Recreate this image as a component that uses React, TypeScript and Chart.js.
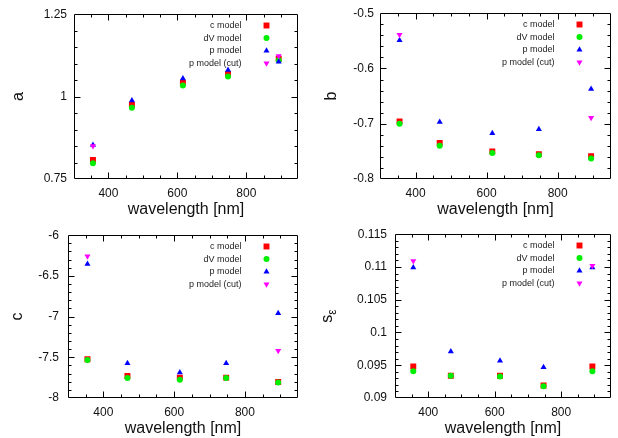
import React, { useEffect, useRef } from 'react';
import { Chart, registerables } from 'chart.js';

Chart.register(...registerables);

// ---- data ----
const wavelengths = [355, 468, 616, 747, 894];
const seriesNames = ['c model', 'dV model', 'p model', 'p model (cut)'];

const aC = [0.808, 0.975, 1.042, 1.069, 1.115];
const aDV = [0.798, 0.966, 1.034, 1.061, 1.110];
const aP = [0.853, 0.988, 1.055, 1.081, 1.106];
const aPcut = [0.850, null, null, null, 1.123];

const bC = [-0.696, -0.735, -0.750, -0.755, -0.759];
const bDV = [-0.700, -0.740, -0.753, -0.757, -0.763];
const bP = [-0.549, -0.697, -0.717, -0.710, -0.637];
const bPcut = [-0.539, null, null, null, -0.689];

const cC = [-7.525, -7.730, -7.750, -7.750, -7.803];
const cDV = [-7.533, -7.755, -7.775, -7.755, -7.811];
const cP = [-6.354, -7.573, -7.686, -7.573, -6.958];
const cPcut = [-6.258, null, null, null, -7.420];

const sC = [0.0948, 0.0934, 0.0934, 0.0919, 0.0948];
const sDV = [0.0941, 0.0934, 0.0933, 0.0918, 0.0941];
const sP = [0.1099, 0.0971, 0.0957, 0.0947, 0.1099];
const sPcut = [0.1109, null, null, null, 0.1102];

const xTicks = [400, 600, 800];
const aTicks = [0.75, 1, 1.25];
const aTickLabels = ['0.75', '1', '1.25'];
const bTicks = [-0.8, -0.7, -0.6, -0.5];
const bTickLabels = ['-0.8', '-0.7', '-0.6', '-0.5'];
const cTicks = [-8, -7.5, -7, -6.5, -6];
const cTickLabels = ['-8', '-7.5', '-7', '-6.5', '-6'];
const sTicks = [0.09, 0.095, 0.1, 0.105, 0.11, 0.115];
const sTickLabels = ['0.09', '0.095', '0.1', '0.105', '0.11', '0.115'];

// ---- panel definitions ----
const panelDefs = [
  { title: 'a', sub: '', series: [aC, aDV, aP, aPcut], yMin: 0.75, yMax: 1.25, ticks: aTicks, labels: aTickLabels, minor: 0.05 },
  { title: 'b', sub: '', series: [bC, bDV, bP, bPcut], yMin: -0.8, yMax: -0.5, ticks: bTicks, labels: bTickLabels, minor: 0.02 },
  { title: 'c', sub: '', series: [cC, cDV, cP, cPcut], yMin: -8, yMax: -6, ticks: cTicks, labels: cTickLabels, minor: 0.1 },
  { title: 's', sub: 'ε', series: [sC, sDV, sP, sPcut], yMin: 0.09, yMax: 0.115, ticks: sTicks, labels: sTickLabels, minor: 0.001 },
];

// ---- layout / style ----
const W = 309;
const H = 219;
const panelLayout = [
  { x: 0, y: 0, left: 74, right: 298, labelPad: 7, titleBase: 23 },
  { x: 309, y: 0, left: 71, right: 302, labelPad: 6, titleBase: 27 },
  { x: 0, y: 219, left: 68, right: 298, labelPad: 9, titleBase: 22 },
  { x: 309, y: 219, left: 86, right: 302, labelPad: 8, titleBase: 23 },
];
const TOP = 13;
const BOTTOM = 179;
const FONT = "'Liberation Sans', Arial, sans-serif";
const markerStyles = [
  { color: '#ff0000', style: 'rect', radius: 4.2, rotation: 0 },
  { color: '#00ee00', style: 'circle', radius: 3, rotation: 0 },
  { color: '#0000ff', style: 'triangle', radius: 3.5, rotation: 0 },
  { color: '#ff00ff', style: 'triangle', radius: 3.5, rotation: 180 },
];

function drawMarker(ctx: CanvasRenderingContext2D, kind: number, x: number, y: number) {
  const m = markerStyles[kind];
  ctx.fillStyle = m.color;
  ctx.beginPath();
  if (m.style === 'rect') {
    const s = m.radius * Math.SQRT1_2;
    ctx.rect(x - s, y - s, 2 * s, 2 * s);
  } else if (m.style === 'circle') {
    ctx.arc(x, y, m.radius, 0, Math.PI * 2);
  } else {
    const r = m.radius;
    const d = m.rotation ? -1 : 1;
    ctx.moveTo(x, y - d * r);
    ctx.lineTo(x + 0.866 * r, y + d * 0.5 * r);
    ctx.lineTo(x - 0.866 * r, y + d * 0.5 * r);
    ctx.closePath();
  }
  ctx.fill();
}

const gnuPlugin = {
  id: 'gnu',
  beforeDatasetsDraw(chart: any, _args: any, opts: any) {
    const { ctx, chartArea: ca, scales } = chart;
    const xs = scales.x;
    const ys = scales.y;
    const L = Math.round(ca.left) + 0.5;
    const R = Math.round(ca.right) - 0.5;
    const T = Math.round(ca.top) + 0.5;
    const B = Math.round(ca.bottom) - 0.5;
    ctx.save();
    ctx.strokeStyle = '#000';
    ctx.lineWidth = 1;
    ctx.beginPath();
    ctx.rect(L, T, R - L, B - T);
    // x ticks
    const xMin = xs.min, xMax = xs.max;
    for (let v = 300; v <= xMax + 1e-9; v += 50) {
      if (v <= xMin || v >= xMax) continue;
      const major = v % 200 === 0;
      const len = major ? 6 : 3;
      const px = Math.round(xs.getPixelForValue(v)) + 0.5;
      ctx.moveTo(px, B); ctx.lineTo(px, B - len);
      ctx.moveTo(px, T); ctx.lineTo(px, T + len);
    }
    // y ticks
    const n = Math.round((opts.yMax - opts.yMin) / opts.minor);
    const majorEvery = Math.round((opts.ticks[1] - opts.ticks[0]) / opts.minor);
    for (let i = 1; i < n; i++) {
      const v = opts.yMin + i * opts.minor;
      const major = i % majorEvery === 0;
      const len = major ? 6 : 3;
      const py = Math.round(ys.getPixelForValue(v)) + 0.5;
      ctx.moveTo(L, py); ctx.lineTo(L + len, py);
      ctx.moveTo(R, py); ctx.lineTo(R - len, py);
    }
    ctx.stroke();
    ctx.restore();
  },
  afterDatasetsDraw(chart: any, _args: any, opts: any) {
    const { ctx, chartArea: ca } = chart;
    ctx.save();
    // legend
    ctx.font = `9px ${FONT}`;
    ctx.textAlign = 'right';
    ctx.textBaseline = 'middle';
    for (let i = 0; i < opts.names.length; i++) {
      const y = ca.top + 11.3 + i * 12.6;
      ctx.fillStyle = '#222';
      ctx.fillText(opts.names[i], ca.right - 56.5, y);
      drawMarker(ctx, i, ca.right - 31.5, y);
    }
    // y title
    const cy = (ca.top + ca.bottom) / 2;
    ctx.translate(opts.titleBase, cy);
    ctx.rotate(-Math.PI / 2);
    ctx.fillStyle = '#111';
    ctx.textBaseline = 'alphabetic';
    ctx.textAlign = 'left';
    ctx.font = `16px ${FONT}`;
    const w1 = ctx.measureText(opts.title).width;
    let w2 = 0;
    if (opts.sub) {
      ctx.font = `12px ${FONT}`;
      w2 = ctx.measureText(opts.sub).width;
    }
    const x0 = -(w1 + w2) / 2;
    ctx.font = `16px ${FONT}`;
    ctx.fillText(opts.title, x0, 0);
    if (opts.sub) {
      ctx.font = `12px ${FONT}`;
      ctx.fillText(opts.sub, x0 + w1, 4);
    }
    ctx.restore();
  },
};

function makeConfig(idx: number): any {
  const def = panelDefs[idx];
  const lay = panelLayout[idx];
  const datasets = def.series.map((vals, si) => ({
    label: seriesNames[si],
    order: def.series.length - si,
    data: wavelengths
      .map((w, i) => (vals[i] === null ? null : { x: w, y: vals[i] }))
      .filter((p) => p !== null),
    pointStyle: markerStyles[si].style,
    pointRadius: markerStyles[si].radius,
    pointRotation: markerStyles[si].rotation,
    pointBackgroundColor: markerStyles[si].color,
    pointBorderWidth: 0,
    borderWidth: 0,
    showLine: false,
  }));
  return {
    type: 'scatter',
    data: { datasets },
    plugins: [gnuPlugin],
    options: {
      responsive: false,
      maintainAspectRatio: false,
      devicePixelRatio: 1,
      animation: false,
      events: [],
      layout: { padding: { top: TOP, right: W - lay.right, bottom: 0, left: 0 } },
      plugins: {
        legend: { display: false },
        tooltip: { enabled: false },
        gnu: {
          names: seriesNames,
          title: def.title,
          sub: def.sub,
          titleBase: lay.titleBase,
          yMin: def.yMin,
          yMax: def.yMax,
          ticks: def.ticks,
          minor: def.minor,
        },
      },
      scales: {
        x: {
          type: 'linear',
          min: 300,
          max: 950,
          grid: { display: false, drawTicks: false },
          border: { display: false },
          afterBuildTicks: (s: any) => {
            s.ticks = xTicks.map((v) => ({ value: v }));
          },
          afterFit: (s: any) => {
            s.height = H - BOTTOM;
          },
          ticks: {
            padding: 7,
            color: '#111',
            font: { family: FONT, size: 12 },
            maxRotation: 0,
            autoSkip: false,
            callback: (v: any) => String(v),
          },
          title: {
            display: true,
            text: 'wavelength [nm]',
            color: '#111',
            font: { family: FONT, size: 16 },
            padding: { top: 0, bottom: 0 },
          },
        },
        y: {
          type: 'linear',
          min: def.yMin,
          max: def.yMax,
          grid: { display: false, drawTicks: false },
          border: { display: false },
          afterBuildTicks: (s: any) => {
            s.ticks = def.ticks.map((v) => ({ value: v }));
          },
          afterFit: (s: any) => {
            s.width = lay.left;
          },
          ticks: {
            padding: lay.labelPad,
            color: '#111',
            font: { family: FONT, size: 12 },
            autoSkip: false,
            callback: (v: any) => {
              const k = def.ticks.findIndex((t) => Math.abs(t - v) < 1e-9);
              return k >= 0 ? def.labels[k] : '';
            },
          },
        },
      },
    },
  };
}

function Panel({ idx }: { idx: number }) {
  const ref = useRef<HTMLCanvasElement | null>(null);
  useEffect(() => {
    if (!ref.current) return;
    const chart = new Chart(ref.current, makeConfig(idx));
    return () => chart.destroy();
  }, [idx]);
  const lay = panelLayout[idx];
  return (
    <div style={{ position: 'absolute', left: lay.x, top: lay.y, width: W, height: H }}>
      <canvas ref={ref} width={W} height={H} style={{ display: 'block', width: W, height: H }} />
    </div>
  );
}

export default function App() {
  return (
    <div style={{ position: 'absolute', left: 0, top: 0, width: 618, height: 438, background: '#fff' }}>
      {panelDefs.map((_, i) => (
        <Panel key={i} idx={i} />
      ))}
    </div>
  );
}
